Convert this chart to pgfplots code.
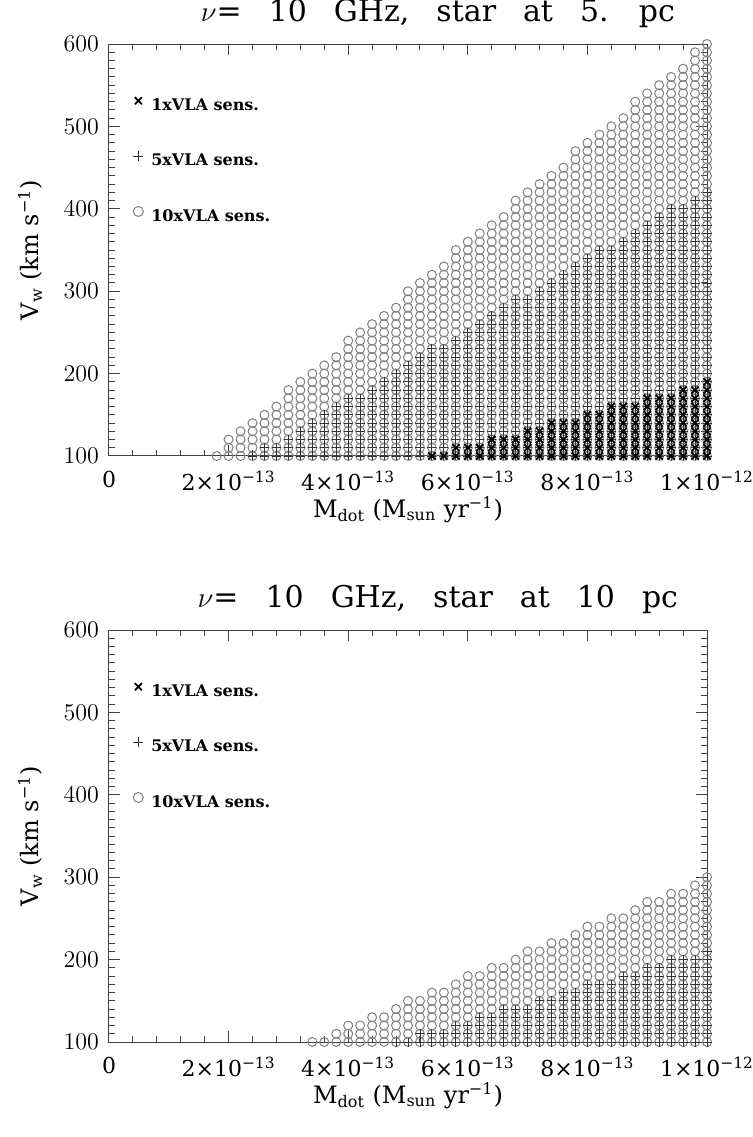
\documentclass[border=0pt]{standalone}
\usepackage{fontspec}
\setmainfont{DejaVu Serif}
\usepackage{pgfplots}
\usepackage{pgfplotstable}
\pgfplotsset{compat=1.18}

% x in units of 1e-13 Msun/yr ; highest V_w (km/s) of each marker column
\pgfplotstableread{
x    circ plus cross
1.8  100  0    0
2.0  120  0    0
2.2  130  0    0
2.4  140  100  0
2.6  150  110  0
2.8  160  110  0
3.0  180  120  0
3.2  190  130  0
3.4  200  140  0
3.6  210  150  0
3.8  220  160  0
4.0  240  170  0
4.2  250  170  0
4.4  260  180  0
4.6  270  190  0
4.8  280  200  0
5.0  300  210  0
5.2  310  220  0
5.4  320  230  100
5.6  330  230  100
5.8  350  240  110
6.0  360  250  110
6.2  370  260  110
6.4  380  270  120
6.6  390  280  120
6.8  410  290  120
7.0  420  290  130
7.2  430  300  130
7.4  440  310  140
7.6  450  320  140
7.8  470  330  140
8.0  480  340  150
8.2  490  350  150
8.4  500  350  160
8.6  510  360  160
8.8  530  370  160
9.0  540  380  170
9.2  550  390  170
9.4  560  400  170
9.6  570  400  180
9.8  590  410  180
10.0 600  420  190
}\topdata

\pgfplotstableread{
x    circ plus
3.4  100  0
3.6  100  0
3.8  110  0
4.0  120  0
4.2  120  0
4.4  130  0
4.6  130  0
4.8  140  100
5.0  150  100
5.2  150  110
5.4  160  110
5.6  160  110
5.8  170  120
6.0  180  120
6.2  180  130
6.4  190  130
6.6  190  140
6.8  200  140
7.0  210  140
7.2  210  150
7.4  220  150
7.6  220  160
7.8  230  160
8.0  240  170
8.2  240  170
8.4  250  170
8.6  250  180
8.8  260  180
9.0  270  190
9.2  270  190
9.4  280  200
9.6  280  200
9.8  290  200
10.0 300  210
}\botdata

% grid cells of the chart: every 10 km/s from 100 up to the column's top value
\newcount\vv
\newcommand\gridpoints[3]{%
  \gdef#3{}%
  \pgfplotstableforeachcolumnelement{#2}\of#1\as\vtop{%
    \pgfplotstablegetelem{\pgfplotstablerow}{x}\of#1%
    \let\xv\pgfplotsretval
    \global\vv=100
    \loop\ifnum\vv<\numexpr\vtop+1\relax
      \xdef#3{#3(\xv,\the\vv)}%
      \global\advance\vv by 10
    \repeat
  }%
}
\newcommand\plotgrid[2]{\edef\tmpplot{\noexpand\addplot[#1] coordinates {#2};}\tmpplot}
\newcommand\ttl[1]{{\spaceskip=0.9em plus 0.1em\relax #1}}

\pgfplotsset{
  mycirc/.style={only marks, mark=o, mark size=2.25pt,
    mark options={draw=black!50, line width=0.5pt}},
  myplus/.style={only marks, mark=+, mark size=2.25pt,
    mark options={draw=black!80, line width=0.45pt}},
  mycross/.style={only marks, mark=x, mark size=2.6pt,
    mark options={draw=black, line width=0.9pt}},
  myaxis/.style={
    scale only axis, width=299pt, height=206pt,
    xmin=0, xmax=10, ymin=100, ymax=600,
    clip=false,
    axis line style={line width=0.5pt, black!75},
    tick align=inside,
    xtick={0,2,4,6,8,10},
    xticklabels={0, 2×10\textsuperscript{−13}, 4×10\textsuperscript{−13}, 6×10\textsuperscript{−13}, 8×10\textsuperscript{−13}, 1×10\textsuperscript{−12}},
    minor x tick num=4,
    ytick={100,200,300,400,500,600},
    minor y tick num=9,
    major tick length=5.5pt, minor tick length=3pt,
    every tick/.style={black!75, line width=0.5pt},
    xticklabel style={font=\fontsize{11}{13}\selectfont, yshift=-4pt},
    yticklabel style={font=\fontsize{12.5}{14}\selectfont, xshift=-1.5pt},
    every axis title shift=1pt,
    title style={at={(axis description cs:0.55,1.049)}, anchor=base, font=\fontsize{15}{18}\selectfont},
    xlabel={M\textsubscript{dot} (M\textsubscript{sun} yr\textsuperscript{−1})},
    ylabel={V\textsubscript{w} (km s\textsuperscript{−1})},
    xlabel style={at={(axis description cs:0.5,-0.13)}, anchor=center, font=\fontsize{12}{14}\selectfont},
    ylabel style={at={(axis description cs:-0.132,0.5)}, anchor=center, font=\fontsize{12}{14}\selectfont},
    legend style={draw=none, fill=none, at={(axis description cs:0.040,0.876)}, anchor=north west,
      font=\fontsize{8}{9.6}\selectfont\bfseries, row sep=17.3pt, inner sep=0pt, nodes={inner sep=1.5pt}},
    legend cell align=left,
    reverse legend,
    legend image code/.code={\draw[##1] plot coordinates {(0pt,2.6pt)};},
    legend image post style={mark size=2.5pt},
  }
}

\begin{document}
\begin{tikzpicture}
\useasboundingbox (0,0) rectangle (376pt,568.5pt);
\gridpoints{\topdata}{circ}{\topcirc}
\gridpoints{\topdata}{plus}{\topplus}
\gridpoints{\topdata}{cross}{\topcross}
\gridpoints{\botdata}{circ}{\botcirc}
\gridpoints{\botdata}{plus}{\botplus}

\begin{axis}[myaxis, at={(54.5pt,340.5pt)}, anchor=south west,
  title={\ttl{$\nu$= 10 GHz, star at 5. pc}}]
  \plotgrid{mycirc}{\topcirc}
  \addlegendentry{\hspace{2.5pt}10xVLA sens.}
  \plotgrid{myplus}{\topplus}
  \addlegendentry{\hspace{2.5pt}5xVLA sens.}
  \plotgrid{mycross}{\topcross}
  \addlegendentry{\hspace{2.5pt}1xVLA sens.}
\end{axis}

\begin{axis}[myaxis, at={(54.5pt,47.5pt)}, anchor=south west,
  title={\ttl{$\nu$= 10 GHz, star at 10 pc}}]
  \plotgrid{mycirc}{\botcirc}
  \addlegendentry{\hspace{2.5pt}10xVLA sens.}
  \plotgrid{myplus}{\botplus}
  \addlegendentry{\hspace{2.5pt}5xVLA sens.}
  \addlegendimage{mycross}
  \addlegendentry{\hspace{2.5pt}1xVLA sens.}
\end{axis}
\end{tikzpicture}
\end{document}
